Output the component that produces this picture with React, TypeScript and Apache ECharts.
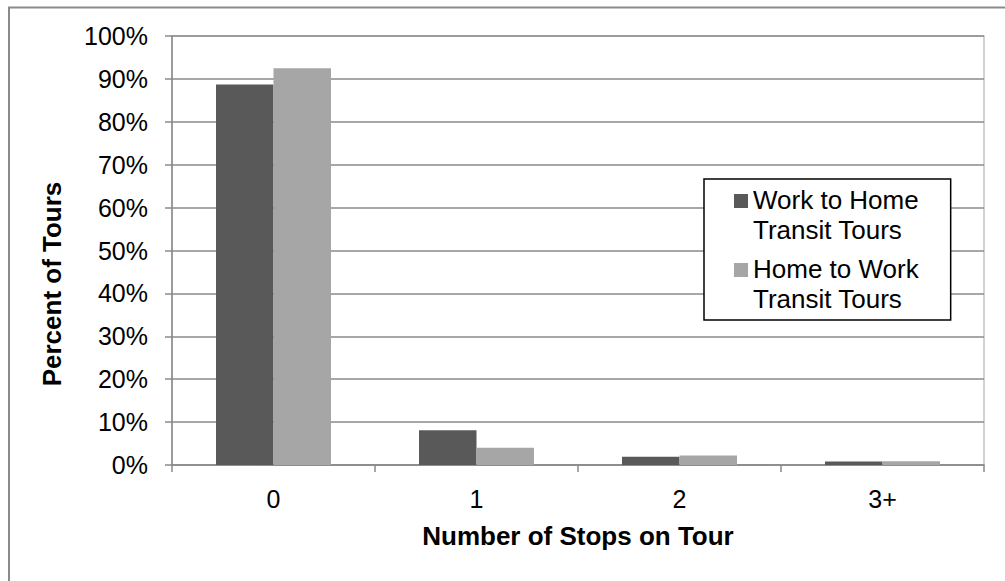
import React, { useEffect, useRef } from "react";
import * as echarts from "echarts";

const categories = ["0", "1", "2", "3+"];
const workToHome = [88.7, 8.1, 1.9, 0.8];
const homeToWork = [92.5, 4.0, 2.2, 0.9];
const seriesNames = ["Work to Home\nTransit Tours", "Home to Work\nTransit Tours"];
const xTitle = "Number of Stops on Tour";
const yTitle = "Percent of Tours";

const FONT = 'Arial, "Liberation Sans", sans-serif';

export default function App() {
  const ref = useRef<HTMLDivElement>(null);
  useEffect(() => {
    if (!ref.current) return;
    const chart = echarts.init(ref.current, null, { renderer: "svg" });
    const iconPath = "path://M0,0L0.01,0L0.01,0.01Z M0,9L14,9L14,23L0,23Z M0,60L0.01,60L0.01,60.01Z";
    chart.setOption({
      animation: false,
      backgroundColor: "#ffffff",
      textStyle: { fontFamily: FONT },
      grid: {
        left: 172,
        right: 21,
        top: 36,
        bottom: 116,
        show: true,
        borderColor: "#c4c4c4",
        borderWidth: 1.5,
        backgroundColor: "transparent",
      },
      legend: {
        orient: "vertical",
        left: 704,
        top: 179,
        padding: [6, 32, 6, 30],
        backgroundColor: "#ffffff",
        borderColor: "#000000",
        borderWidth: 1.5,
        itemGap: 9,
        itemWidth: 14,
        itemHeight: 60,
        icon: iconPath,
        itemStyle: { borderWidth: 0 },
        textStyle: { fontFamily: FONT, fontSize: 26, lineHeight: 30, color: "#000", padding: [0, 0, 0, 0] },
        data: seriesNames,
      },
      xAxis: {
        type: "category",
        data: categories,
        boundaryGap: true,
        name: xTitle,
        nameLocation: "middle",
        nameGap: 58,
        nameTextStyle: { fontFamily: FONT, fontSize: 26, fontWeight: "bold", color: "#000" },
        axisLine: { lineStyle: { color: "#8a8a8a", width: 1.5 } },
        axisTick: { show: true, length: 7, alignWithLabel: false, lineStyle: { color: "#8a8a8a", width: 1.5 } },
        axisLabel: { fontFamily: FONT, fontSize: 25, color: "#000", margin: 21 },
        splitLine: { show: false },
      },
      yAxis: {
        type: "value",
        min: 0,
        max: 100,
        interval: 10,
        axisLine: { show: true, lineStyle: { color: "#8a8a8a", width: 1.5 } },
        axisTick: { show: true, length: 7, lineStyle: { color: "#8a8a8a", width: 1.5 } },
        axisLabel: { fontFamily: FONT, fontSize: 25, color: "#000", margin: 24, formatter: "{value}%" },
        splitLine: { show: true, lineStyle: { color: "#8a8a8a", width: 1.5 } },
      },
      graphic: [
        {
          type: "rect",
          silent: true,
          shape: { x: 9, y: 7.5, width: 1200, height: 800 },
          style: { fill: "none", stroke: "#8a8a8a", lineWidth: 2 },
          z: 100,
        },
        {
          type: "text",
          x: 52,
          y: 284,
          rotation: Math.PI / 2,
          style: {
            text: yTitle,
            font: `bold 26px ${FONT}`,
            fill: "#000",
            align: "center",
            verticalAlign: "middle",
            textAlign: "center",
            textVerticalAlign: "middle",
          },
        },
      ],
      series: [
        {
          name: seriesNames[0],
          type: "bar",
          data: workToHome,
          barWidth: 57.5,
          barGap: "0%",
          itemStyle: { color: "#595959" },
        },
        {
          name: seriesNames[1],
          type: "bar",
          data: homeToWork,
          barWidth: 57.5,
          barGap: "0%",
          itemStyle: { color: "#a6a6a6" },
        },
      ],
    });
    return () => chart.dispose();
  }, []);
  return (
    <div
      ref={ref}
      style={{ position: "fixed", left: 0, top: 0, width: 1005, height: 581, background: "#fff" }}
    />
  );
}
